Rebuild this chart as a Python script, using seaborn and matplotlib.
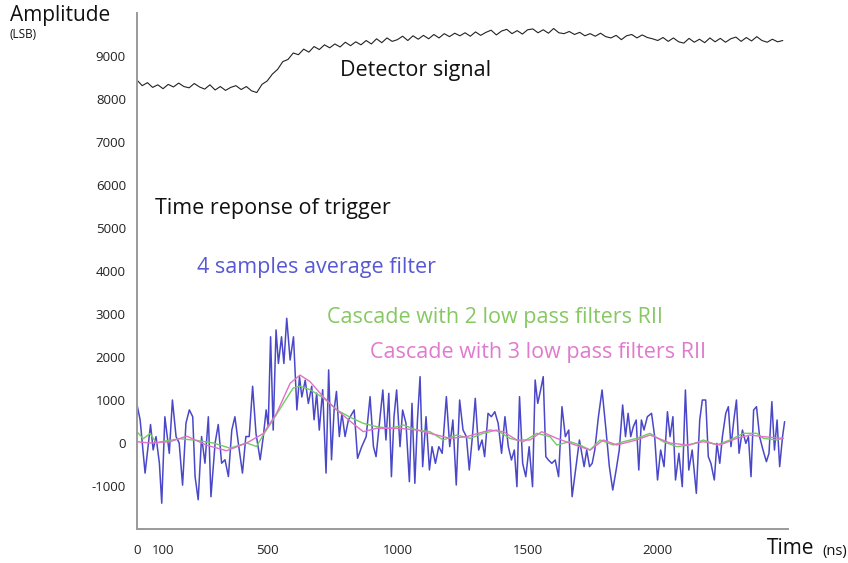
import numpy as np
import pandas as pd
import seaborn as sns
from matplotlib import pyplot as plt

# detector signal (ns, LSB)
det_t = list(range(0, 2481, 20))
det_v = [8440, 8310, 8380, 8270, 8330, 8240, 8340, 8280, 8370, 8290,
         8260, 8360, 8280, 8230, 8330, 8210, 8290, 8200, 8270, 8310,
         8220, 8290, 8190, 8150, 8340, 8420, 8580, 8690, 8870, 8920,
         9070, 9030, 9160, 9090, 9220, 9150, 9260, 9190, 9280, 9210,
         9320, 9240, 9330, 9260, 9360, 9280, 9400, 9310, 9420, 9340,
         9380, 9460, 9360, 9470, 9390, 9480, 9400, 9500, 9420, 9520,
         9450, 9530, 9470, 9540, 9460, 9560, 9480, 9550, 9600, 9490,
         9580, 9620, 9520, 9590, 9510, 9610, 9630, 9540, 9610, 9530,
         9640, 9540, 9520, 9570, 9500, 9550, 9470, 9520, 9460, 9530,
         9450, 9420, 9480, 9380, 9470, 9500, 9420, 9490, 9430, 9400,
         9360, 9430, 9340, 9420, 9330, 9300, 9410, 9320, 9390, 9310,
         9420, 9330, 9410, 9320, 9400, 9440, 9340, 9430, 9350, 9450,
         9360, 9320, 9390, 9330, 9360]

# 4 samples average filter
avg_t = [0, 12, 31, 44, 52, 62, 73, 86, 95, 107, 124, 136, 150, 162, 175, 188,
         201, 214, 223, 235, 248, 261, 274, 284, 300, 312, 325, 338, 351, 364,
         376, 389, 405, 418, 431, 444, 457, 473, 485, 496, 504, 513, 523, 534,
         543, 555, 564, 575, 588, 601, 614, 624, 633, 646, 658, 671, 680, 690,
         700, 713, 726, 736, 747, 757, 766, 777, 787, 799, 812,
         834, 847, 863, 880, 895, 908, 918, 931, 944, 956, 967, 977, 987, 997,
         1010, 1020, 1033, 1046, 1056, 1067, 1077, 1087, 1097, 1110, 1123, 1133,
         1146, 1159, 1172, 1188, 1201, 1213, 1226, 1239, 1252, 1265, 1276, 1288,
         1299, 1312, 1325, 1335, 1348, 1361, 1374, 1387, 1400, 1413, 1426, 1438,
         1449, 1459, 1469, 1481, 1493, 1506, 1519, 1529, 1539, 1550, 1560, 1570,
         1580, 1593, 1606, 1619, 1632, 1645, 1658, 1671, 1684,
         1699, 1717, 1727, 1738, 1748, 1758, 1772, 1786, 1801, 1814, 1827, 1840,
         1852, 1865, 1876, 1886, 1896, 1906, 1917, 1927, 1937, 1947, 1960, 1976,
         1988, 1999, 2011, 2024, 2037, 2047, 2058, 2068, 2081, 2094, 2106, 2119,
         2132, 2148, 2161, 2171, 2184, 2194, 2204, 2217, 2227, 2238, 2248, 2261,
         2271, 2281, 2292, 2302, 2312, 2325, 2338, 2348, 2358, 2368, 2379, 2391,
         2404, 2417, 2427, 2438, 2448, 2458, 2468, 2479, 2487]
avg_v = [890, 540, -700, 0, 430, -160, 150, -470, -1400, 610, -240, 1000, 150, 0,
         -980, 460, 770, 610, -780, -1320, 150, -470, 610, -1250, 0, 430, -470,
         -390, -780, 300, 610, 0, -700, 150, 150, 1320, 220, -390, 150, 770, 380,
         2470, 300, 2630, 1850, 2470, 1850, 2900, 1930, 2470, 770, 1540, 1070,
         1460, 920, 1320, 540, 1160, 300, 1240, -700, 1700, -390, 770, 1200, 150,
         690, 150, 540,
         767, -357, -85, 147, 1078, -85, -318, 457, 1233, 70, 1155, -783, 612,
         1233, -85, 767, 457, -900, 922, -938, 535, 1543, -550, 612, -628, -85,
         -473, -85, -240, 1078, -85, 535, -977, 1000, 302, 147, -628, 147, 1039,
         -163, 70, -318, 690, 612, 728, 457, -240, 612, -85, -395, -163, -1016,
         1078, -473, -783, -85, -1016, 1465, 922, 1233, 1543, -318, -395, -473,
         -395, -783, 845, 147, 302, -1248, -628,
         70, -550, -163, -550, -473, -163, 612, 1233, 302, -550, -1093, -628,
         -163, 884, 147, 690, 147, 380, 535, -628, 535, 302, 612, 690, 147, -860,
         -163, -550, 728, 147, 612, -860, -240, -1016, 1233, -628, -163, -1171,
         535, 1000, 1000, -318, -473, -860, -8, -473, 147, 690, 845, -85, 535,
         1000, -240, 302, -8, 147, -783, 767, 845, 147, -163, -434, -240, 961,
         -163, 535, -550, 147, 496]

# cascade with 2 low pass filters
rii2_t = [0, 24, 50, 75, 101, 165, 229, 293, 357, 421, 459, 485, 523, 562, 600,
          626, 664, 716, 767, 818, 869, 920, 972, 1023, 1074, 1125, 1176, 1228,
          1279, 1330, 1381, 1432, 1484, 1535, 1586, 1612, 1663, 1701, 1740, 1778,
          1829, 1868, 1919, 1970, 2021, 2073, 2124, 2175, 2226, 2277, 2329, 2380,
          2405, 2457, 2482]
rii2_v = [260, 100, 220, 0, 40, 100, 60, 0, -120, 0, -80, 190, 540, 920, 1280,
          1320, 1240, 1050, 770, 600, 457, 380, 341, 418, 302, 263, 70, 186, 108,
          225, 302, 108, 31, 225, 147, -46, 31, -46, -163, 70, -46, 30, 108, 225,
          30, -85, -46, 70, -46, 70, 225, 225, 108, 70, 108]

# cascade with 3 low pass filters
rii3_t = [0, 50, 127, 191, 267, 344, 421, 485, 536, 588, 626, 664, 716, 767, 830,
          869, 920, 1010, 1074, 1151, 1202, 1266, 1355, 1407, 1458, 1509, 1554,
          1612, 1701, 1740, 1791, 1842, 1919, 1970, 2047, 2111, 2175, 2239, 2303,
          2354, 2405, 2482]
rii3_v = [30, 0, 30, 160, -50, -180, 0, 220, 690, 1390, 1580, 1430, 1070, 770,
          450, 263, 341, 341, 302, 186, 108, 147, 302, 263, 70, 70, 263, 108, -85,
          -163, 70, -46, 70, 186, 0, -46, 30, -46, 108, 186, 147, 108]

x_ticks = list(range(0, 2501, 100))
x_labels = {0: '0', 100: '100', 500: '500', 1000: '1000', 1500: '1500', 2000: '2000'}
y_ticks = list(range(-2000, 10001, 500))
y_labels = {v: str(v) for v in range(-1000, 9001, 1000)}

sns.set_style('white')
plt.rcParams['font.family'] = ['Open Sans', 'DejaVu Sans']

W, H = 848, 563
fig = plt.figure(figsize=(W / 100, H / 100), dpi=100)
ax = fig.add_axes([137 / W, 1 - 529 / H, (788 - 137) / W, (529 - 13) / H])

sns.lineplot(x=avg_t, y=avg_v, ax=ax, color='#4a48c8', lw=1.1)
sns.lineplot(x=rii2_t, y=rii2_v, ax=ax, color='#72cc60', lw=1.0)
sns.lineplot(x=rii3_t, y=rii3_v, ax=ax, color='#e070c8', lw=1.0)
sns.lineplot(x=det_t, y=det_v, ax=ax, color='#222222', lw=0.8)

ax.set_xlim(0, 2500)
ax.set_ylim(-2000, 10000)
ax.set_xticks(x_ticks)
ax.set_xticklabels([x_labels.get(t, '') for t in x_ticks])
ax.set_yticks(y_ticks)
ax.set_yticklabels([y_labels.get(t, '') for t in y_ticks])
ax.set_xlabel('')
ax.set_ylabel('')

sns.despine(ax=ax)
for side in ['left', 'bottom']:
    ax.spines[side].set_color('#9a9a9a')
    ax.spines[side].set_linewidth(1.4)
ax.tick_params(axis='both', direction='out', length=3, width=1, color='#9a9a9a',
               labelsize=9.5, labelcolor='#222222')
ax.tick_params(axis='x', pad=8)
ax.tick_params(axis='y', pad=5)

# annotations
ax.text(780, 8674, 'Detector signal', fontsize=15.5, color='#111111', va='center')
ax.text(69, 5465, 'Time reponse of trigger', fontsize=15.5, color='#111111', va='center')
ax.text(230, 4070, '4 samples average filter', fontsize=15.5, color='#5858d4', va='center')
ax.text(730, 2930, 'Cascade with 2 low pass filters RII', fontsize=15.5, color='#86c862', va='center')
ax.text(895, 2116, 'Cascade with 3 low pass filters RII', fontsize=15.5, color='#e07ace', va='center')

fig.text(10 / W, 1 - 16 / H, 'Amplitude', fontsize=15, color='#111111', va='center')
fig.text(10 / W, 1 - 34 / H, '(LSB)', fontsize=8.5, color='#111111', va='center')
fig.text(767 / W, 1 - 549 / H, 'Time', fontsize=15, color='#111111', va='center')
fig.text(822 / W, 1 - 551 / H, '(ns)', fontsize=10.5, color='#111111', va='center')

fig.savefig('out.png', dpi=100)
